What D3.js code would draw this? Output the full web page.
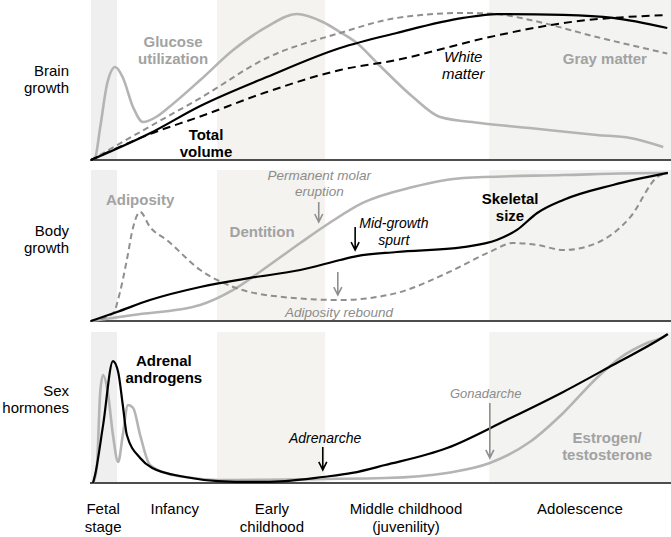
<!DOCTYPE html>
<html><head><meta charset="utf-8">
<script src="https://cdn.jsdelivr.net/npm/d3@7"></script>
<style>body{margin:0;background:#fff}svg{display:block}text{font-family:"Liberation Sans",Arial,sans-serif}</style>
</head><body><div id="chart"></div>
<script>
// ---- DATA (age axis 0-100, each panel value 0-100) ----
const bandStarts = [0, 21.8, 68.9];
const bandEnds   = [4.5, 40.5, 100.4];
const bandKinds  = ["fetal", "early", "adol"];

const stageLines = [["Fetal","stage"],["Infancy"],["Early","childhood"],["Middle childhood","(juvenility)"],["Adolescence"]];
const stagePos   = [2.1, 14.5, 31.3, 54.5, 84.6];

const rowLabels = [["Brain","growth"],["Body","growth"],["Sex","hormones"]];

// Brain growth
const glucose = [[0,0],[0.7,1.5],[1.6,22],[2.8,51],[4.2,62],[5.5,55],[7.3,35],[9.0,25.3],[11.4,29],[13.1,34],[18.9,53.3],[24.6,73.3],[30.4,88.7],[35.6,97.3],[40.1,92],[43.1,85.3],[46.0,78],[49.5,64.7],[55.7,42],[60.4,28.7],[67.3,24.7],[75.9,21.3],[87.5,16.7],[93.3,14.7],[99.0,8.7]];
const grayMatter = [[0,0],[11.4,25],[18.9,41.3],[30.4,68],[43.1,84.7],[52.9,94.7],[64.4,98],[70.2,97.3],[76,93.3],[87.5,82],[99.7,71]];
const totalVolume = [[0,0],[10.2,17.8],[18.9,36],[30.4,55.3],[43.1,74.7],[52.9,84.7],[64.4,94.7],[70.2,97.3],[81.7,96.7],[90.3,94.7],[99.7,88]];
const whiteMatter = [[0,0],[10.2,17.3],[18.9,29],[30.4,45.3],[43.1,60],[52.9,66.7],[69,82],[81.7,91.3],[99.7,96.7]];

// Body growth
const skeletal = [[0,0],[4.5,6],[10.2,14],[18.9,22.7],[27.5,28.7],[36.2,34],[43.1,40.7],[46,43.3],[52.9,46],[64.4,49.3],[70.2,54],[73.7,60.7],[77.2,72],[81.7,80.7],[90.3,90.7],[99.8,98.7]];
const dentition = [[0,0],[7.3,4],[18.9,10.7],[24.6,20.7],[30.4,36],[36.2,52],[41.5,66],[47,78.7],[55.7,89.3],[64.4,95.3],[81.7,97.3],[98,98.7],[99.8,98.7]];
const adiposity = [[0,0],[3.8,5],[5.0,19],[6.2,40.7],[7.3,62.7],[8.5,72.7],[10.2,62.7],[13.1,54],[18.9,34],[24.6,22.7],[33.2,16],[43.1,14],[52.9,18.7],[61.6,32],[69,46],[73,52],[77.2,50.7],[81.7,47.3],[87.5,52],[93.3,69.3],[98,96],[99.8,98.7]];

// Sex hormones
const adrenal = [[0.35,0],[0.7,5.3],[2.1,38.7],[3.8,81.3],[4.7,74],[5.5,52],[6.2,32],[8.5,16.7],[10.6,10],[16.3,4],[22,1.3],[27.9,0.7],[33.6,1.3],[40.1,4],[45.2,6.7],[50.9,12],[61.6,23.3],[71.9,42],[81.7,60.7],[90.3,78.7],[99,97.3],[99.8,99.3]];
const estrogen = [[0.35,0],[1.0,10],[1.6,60.7],[2.1,72],[2.9,60.7],[3.8,32],[4.7,14],[5.5,32],[6.4,52],[7.3,50],[8.5,32],[10.2,12],[13.5,6],[16.3,4],[22,2],[40,2.7],[50.9,3.3],[61.6,6.7],[69,13.3],[75.9,27.3],[81.7,46.7],[87.5,70],[91.5,83.3],[96.2,93.3],[99,97.3],[99.8,99.3]];

// Annotations: [panel, u, v, lines, style]
const labels = [
  [0,14.2,75.3,["Glucose","utilization"],"boldGray"],
  [0,19.9,13.3,["Total","volume"],"boldBlack"],
  [0,64.4,65.3,["White","matter"],"italBlackL"],
  [0,88.9,64,["Gray matter"],"boldGray"],
  [1,8.5,77.3,["Adiposity"],"boldGray"],
  [1,29.6,56,["Dentition"],"boldGray"],
  [1,39.5,94,["Permanent molar","eruption"],"italGray"],
  [1,52.4,62,["Mid-growth","spurt"],"italBlack"],
  [1,72.5,78,["Skeletal","size"],"boldBlack"],
  [1,42.9,2.7,["Adiposity rebound"],"italGray"],
  [2,12.6,78,["Adrenal","androgens"],"boldBlack"],
  [2,40.5,26.7,["Adrenarche"],"italBlack"],
  [2,68.3,56.7,["Gonadarche"],"italGraySm"],
  [2,89.3,26.7,["Estrogen/","testosterone"],"boldGray"]
];
// Arrows: [panel, u, vFrom, vTo, color]
const arrows = [
  [1,39.4,79.3,66,"gray"],
  [1,45.7,62.7,47.3,"black"],
  [1,42.7,32.7,17.3,"gray"],
  [2,40.1,24,8.7,"black"],
  [2,69,53.3,16.7,"gray"]
];

// ---- DRAW ----
const W = 671, H = 537;
const svg = d3.select("#chart").append("svg").attr("width", W).attr("height", H);
const x = d3.scaleLinear().domain([0,100]).range([91,669]);
const baselines = [160, 321, 483];
const bandTops = [0, 170, 332];
const ys = baselines.map(b => d3.scaleLinear().domain([0,100]).range([b, b-150]));

const bandFill = {fetal:"#efefef", early:"#f4f3ef", adol:"#f3f3f1"};
baselines.forEach((b,i) => {
  bandStarts.forEach((s,j) => {
    svg.append("rect").attr("x", x(s)).attr("y", bandTops[i])
      .attr("width", x(bandEnds[j]) - x(s)).attr("height", b - 1 - bandTops[i])
      .attr("fill", bandFill[bandKinds[j]]);
  });
});
baselines.forEach(b => {
  svg.append("line").attr("x1", 90).attr("x2", 671).attr("y1", b).attr("y2", b)
    .attr("stroke", "#4d4d4d").attr("stroke-width", 2);
});

const GRAY = "#b4b4b4", DGRAY = "#8f8f8f";
function curve(panel, data, color, width, dash) {
  const line = d3.line().x(d => x(d[0])).y(d => ys[panel](d[1])).curve(d3.curveMonotoneX);
  svg.append("path").attr("d", line(data)).attr("fill", "none")
    .attr("stroke", color).attr("stroke-width", width)
    .attr("stroke-dasharray", dash || null).attr("stroke-linejoin","round");
}
curve(0, glucose, GRAY, 2.6);
curve(0, grayMatter, DGRAY, 2, "6,4");
curve(0, whiteMatter, "#000", 2, "8,5");
curve(0, totalVolume, "#000", 2.2);
curve(1, dentition, GRAY, 2.6);
curve(1, adiposity, DGRAY, 2, "6,4");
curve(1, skeletal, "#000", 2.2);
curve(2, estrogen, GRAY, 2.6);
curve(2, adrenal, "#000", 2.2);

const styles = {
  boldGray:   {w:"bold", s:"normal", c:"#a2a2a2", f:15, lh:17},
  boldBlack:  {w:"bold", s:"normal", c:"#000", f:15, lh:17},
  italBlack:  {w:"normal", s:"italic", c:"#000", f:14, lh:17},
  italBlackL: {w:"normal", s:"italic", c:"#000", f:15, lh:17},
  italGray:   {w:"normal", s:"italic", c:"#8c8c8c", f:13.5, lh:15.5},
  italGraySm: {w:"normal", s:"italic", c:"#8c8c8c", f:13, lh:15}
};
labels.forEach(([p,u,v,lines,st]) => {
  const S = styles[st];
  lines.forEach((t,k) => {
    svg.append("text").attr("x", x(u)).attr("y", ys[p](v) + k*S.lh)
      .attr("text-anchor","middle").attr("font-size", S.f)
      .attr("font-weight", S.w).attr("font-style", S.s).attr("fill", S.c).text(t);
  });
});

arrows.forEach(([p,u,v1,v2,c]) => {
  const col = c === "gray" ? "#8f8f8f" : "#000";
  const ax = x(u), y1 = ys[p](v1), y2 = ys[p](v2);
  svg.append("path").attr("d", `M${ax},${y1}L${ax},${y2}M${ax-4},${y2-8}L${ax},${y2}L${ax+4},${y2-8}`)
    .attr("fill","none").attr("stroke", col).attr("stroke-width", 1.6);
});

// Row labels
const rowBase = [75.5, 236, 395.5];
rowLabels.forEach((lines,i) => {
  lines.forEach((t,k) => {
    svg.append("text").attr("x", 69).attr("y", rowBase[i] + k*17)
      .attr("text-anchor","end").attr("font-size",15).attr("fill","#000").text(t);
  });
});

// Stage labels
stageLines.forEach((lines,i) => {
  lines.forEach((t,k) => {
    svg.append("text").attr("x", x(stagePos[i])).attr("y", 514 + k*18)
      .attr("text-anchor","middle").attr("font-size",15).attr("fill","#000").text(t);
  });
});
</script></body></html>
